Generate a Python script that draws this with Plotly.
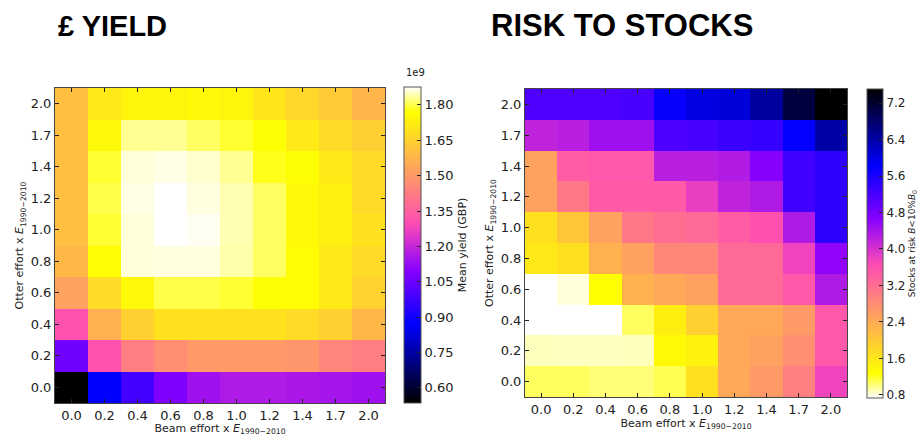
import plotly.graph_objects as go

# Effort multipliers (categories)
beam_effort = ["0.0", "0.2", "0.4", "0.6", "0.8", "1.0", "1.2", "1.4", "1.7", "2.0"]
otter_effort = ["0.0", "0.2", "0.4", "0.6", "0.8", "1.0", "1.2", "1.4", "1.7", "2.0"]

# Mean yield (GBP, x1e9); rows = otter effort 0.0 -> 2.0, cols = beam effort 0.0 -> 2.0
yield_r00 = [0.536, 0.87, 0.98, 1.085, 1.14, 1.166, 1.166, 1.16, 1.15, 1.14]
yield_r02 = [1.06, 1.31, 1.43, 1.47, 1.50, 1.50, 1.50, 1.49, 1.45, 1.43]
yield_r04 = [1.31, 1.56, 1.645, 1.69, 1.69, 1.69, 1.69, 1.67, 1.645, 1.58]
yield_r06 = [1.52, 1.67, 1.75, 1.80, 1.80, 1.79, 1.77, 1.76, 1.71, 1.65]
yield_r08 = [1.58, 1.76, 1.86, 1.863, 1.863, 1.84, 1.81, 1.76, 1.71, 1.67]
yield_r10 = [1.60, 1.79, 1.86, 1.876, 1.87, 1.843, 1.81, 1.75, 1.73, 1.69]
yield_r12 = [1.60, 1.80, 1.865, 1.876, 1.863, 1.843, 1.81, 1.75, 1.73, 1.67]
yield_r14 = [1.60, 1.79, 1.86, 1.865, 1.855, 1.83, 1.78, 1.77, 1.71, 1.67]
yield_r17 = [1.60, 1.75, 1.83, 1.83, 1.81, 1.79, 1.77, 1.71, 1.67, 1.64]
yield_r20 = [1.60, 1.71, 1.74, 1.74, 1.75, 1.74, 1.70, 1.66, 1.63, 1.57]

# Stocks at risk; rows = otter effort 0.0 -> 2.0, cols = beam effort 0.0 -> 2.0
risk_r00 = [1.07, 1.07, 1.02, 1.02, 1.10, 1.68, 2.43, 2.63, 2.97, 3.77]
risk_r02 = [0.87, 0.86, 0.86, 0.87, 1.35, 1.45, 2.43, 2.53, 2.76, 3.51]
risk_r04 = [0.73, 0.73, 0.73, 1.07, 1.48, 1.90, 2.43, 2.43, 2.63, 3.51]
risk_r06 = [0.73, 0.81, 1.27, 2.32, 2.43, 2.53, 3.27, 3.27, 3.51, 4.32]
risk_r08 = [1.58, 1.68, 2.32, 2.53, 2.87, 2.87, 3.27, 3.27, 3.77, 4.59]
risk_r10 = [1.68, 2.02, 2.53, 3.07, 3.20, 3.27, 3.44, 3.61, 4.32, 5.41]
risk_r12 = [2.53, 3.07, 3.47, 3.47, 3.47, 3.84, 4.19, 4.32, 5.27, 5.41]
risk_r14 = [2.53, 3.44, 3.51, 3.51, 4.25, 4.25, 4.30, 4.66, 5.27, 5.41]
risk_r17 = [4.19, 4.25, 4.45, 4.45, 5.16, 5.20, 5.30, 5.35, 5.80, 6.40]
risk_r20 = [5.14, 5.14, 5.14, 5.20, 5.75, 6.02, 6.06, 6.45, 7.09, 7.51]

yield_z = [yield_r00, yield_r02, yield_r04, yield_r06, yield_r08,
           yield_r10, yield_r12, yield_r14, yield_r17, yield_r20]
risk_z = [risk_r00, risk_r02, risk_r04, risk_r06, risk_r08,
          risk_r10, risk_r12, risk_r14, risk_r17, risk_r20]

yield_ticks = [0.60, 0.75, 0.90, 1.05, 1.20, 1.35, 1.50, 1.65, 1.80]
risk_ticks = [0.8, 1.6, 2.4, 3.2, 4.0, 4.8, 5.6, 6.4, 7.2]

gnuplot2 = [[0.0, "rgb(0,0,0)"], [0.25, "rgb(0,0,255)"], [0.42, "rgb(135,0,255)"],
            [0.57, "rgb(255,77,179)"], [0.92, "rgb(255,255,0)"], [1.0, "rgb(255,255,255)"]]

W, H = 917, 436
def px(x): return x / W
def py(y): return 1 - y / H

tickfont = dict(family="DejaVu Sans", size=13, color="#222")
titlefont = dict(family="DejaVu Sans", size=11, color="#222")

fig = go.Figure()
fig.add_trace(go.Heatmap(
    x=beam_effort, y=otter_effort, z=yield_z, colorscale=gnuplot2,
    xaxis="x", yaxis="y",
    colorbar=dict(x=px(404), xanchor="left", y=py(87), yanchor="top",
                  len=316, lenmode="pixels", thickness=17, thicknessmode="pixels",
                  outlinecolor="#555", outlinewidth=1, xpad=0, ypad=0,
                  tickvals=yield_ticks, ticktext=[f"{v:.2f}" for v in yield_ticks],
                  ticks="inside", ticklen=4, tickcolor="#222", tickfont=tickfont,
                  title=dict(text="Mean yield (GBP)", side="right", font=titlefont)),
))
fig.add_trace(go.Heatmap(
    x=beam_effort, y=otter_effort, z=risk_z, colorscale=gnuplot2, reversescale=True,
    xaxis="x2", yaxis="y2",
    colorbar=dict(x=px(867), xanchor="left", y=py(89), yanchor="top",
                  len=309, lenmode="pixels", thickness=16, thicknessmode="pixels",
                  outlinecolor="#555", outlinewidth=1, xpad=0, ypad=0,
                  tickvals=risk_ticks, ticktext=[f"{v:.1f}" for v in risk_ticks],
                  ticks="inside", ticklen=4, tickcolor="#222",
                  tickfont=dict(family="DejaVu Sans", size=12, color="#222"),
                  title=dict(text="Stocks at risk <i>B</i><10%<i>B</i><sub>0</sub>",
                             side="right",
                             font=dict(family="DejaVu Sans", size=9, color="#222"))),
))

xtitle = "Beam effort x <i>E</i><sub>1990−2010</sub>"
ytitle = "Otter effort x <i>E</i><sub>1990−2010</sub>"
axcommon = dict(type="category", showline=True, linecolor="#444", linewidth=1,
                mirror="ticks", ticks="inside", ticklen=4, tickcolor="#222",
                tickfont=tickfont, showgrid=False, zeroline=False, fixedrange=True,
                automargin=False)

fig.update_layout(
    width=W, height=H, margin=dict(l=0, r=0, t=0, b=0, autoexpand=False),
    paper_bgcolor="white", plot_bgcolor="white", showlegend=False,
    xaxis=dict(domain=[px(55), px(385)], anchor="y",
               title=dict(text=xtitle, font=titlefont, standoff=2), **axcommon),
    yaxis=dict(domain=[py(403), py(88)], anchor="x",
               title=dict(text=ytitle, font=titlefont, standoff=4), **axcommon),
    xaxis2=dict(domain=[px(525), px(847)], anchor="y2",
                title=dict(text=xtitle, font=titlefont, standoff=2), **axcommon),
    yaxis2=dict(domain=[py(397), py(89)], anchor="x2",
                title=dict(text=ytitle, font=titlefont, standoff=4), **axcommon),
    annotations=[
        dict(text="£ YIELD", x=px(56), y=py(26), xref="paper", yref="paper",
             xanchor="left", yanchor="middle", showarrow=False,
             font=dict(family="Liberation Sans", size=29, color="black", weight="bold")),
        dict(text="RISK TO STOCKS", x=px(489), y=py(26), xref="paper", yref="paper",
             xanchor="left", yanchor="middle", showarrow=False,
             font=dict(family="Liberation Sans", size=31, color="black", weight="bold")),
        dict(text="1e9", x=px(404), y=py(80), xref="paper", yref="paper",
             xanchor="left", yanchor="bottom", showarrow=False,
             font=dict(family="DejaVu Sans", size=10, color="#222")),
    ],
)

fig.write_html("out.html", config={"displayModeBar": False},
               post_script="document.body.style.margin='0';document.body.style.padding='0';")
